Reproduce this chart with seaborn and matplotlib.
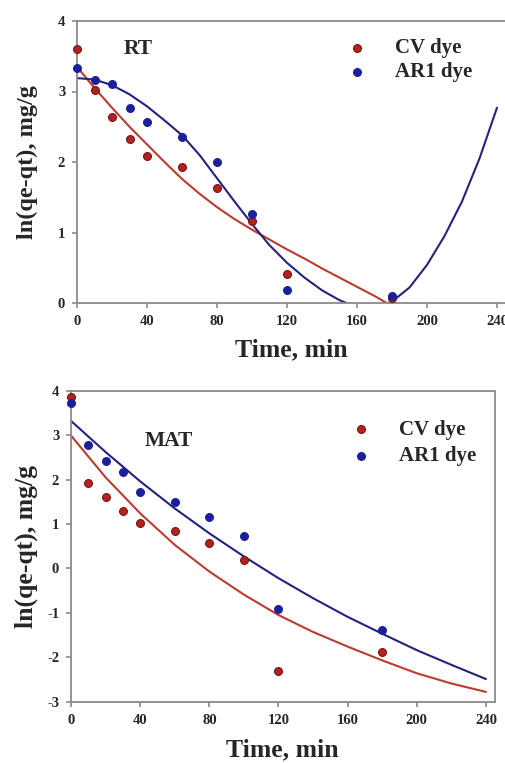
# -*- coding: utf-8 -*-

# pseudo-first-order kinetics: ln(qe-qt) vs time, RT and MAT panels

import matplotlib.pyplot as plt
import seaborn as sns
import pandas as pd

sns.set_style("ticks")
plt.rcParams["font.family"] = ["Liberation Serif", "DejaVu Serif"]
plt.rcParams["font.weight"] = "bold"
plt.rcParams["axes.labelweight"] = "bold"
plt.rcParams["axes.unicode_minus"] = False

# 颜色
red_dot = "#b3221e"
red_edge = "#7c1212"
blue_dot = "#1b1f9c"
red_line = "#bb3b30"
blue_line = "#23237f"
spine_color = "#8a8a8a"

# 实验数据 (min)
TIME = [0, 10, 20, 30, 40, 60, 80, 100, 120, 180]
RT_CV = [3.60, 3.02, 2.64, 2.32, 2.08, 1.93, 1.63, 1.17, 0.41, 0.07]
RT_AR1 = [3.34, 3.16, 3.10, 2.76, 2.57, 2.36, 2.00, 1.26, 0.18, 0.10]
MAT_CV = [3.85, 1.93, 1.60, 1.30, 1.03, 0.84, 0.57, 0.19, -2.31, -1.89]
MAT_AR1 = [3.72, 2.78, 2.42, 2.17, 1.73, 1.50, 1.16, 0.73, -0.91, -1.38]

# 拟合曲线
RT_CV_FIT_T = [0, 10, 20, 30, 40, 50, 60, 70, 80, 90, 100, 110, 120,
               130, 140, 150, 160, 170, 177]
RT_CV_FIT = [3.35, 3.05, 2.77, 2.50, 2.25, 2.00, 1.76, 1.55, 1.36, 1.19,
             1.04, 0.90, 0.76, 0.63, 0.49, 0.36, 0.23, 0.10, 0.00]
RT_AR1_FIT_T = [0, 10, 20, 30, 40, 50, 60, 70, 80, 90, 100, 110, 120,
                130, 140, 150, 160, 170, 180, 190, 200, 210, 220, 230, 240]
RT_AR1_FIT = [3.19, 3.17, 3.09, 2.96, 2.79, 2.59, 2.38, 2.10, 1.77, 1.44,
              1.12, 0.82, 0.57, 0.36, 0.18, 0.04, -0.06, -0.08, 0.02, 0.22,
              0.54, 0.95, 1.44, 2.05, 2.77]
MAT_FIT_T = [0, 20, 40, 60, 80, 100, 120, 140, 160, 180, 200, 220, 240]
MAT_CV_FIT = [2.99, 2.05, 1.24, 0.53, -0.07, -0.59, -1.05, -1.43, -1.76,
              -2.07, -2.36, -2.59, -2.78]
MAT_AR1_FIT = [3.32, 2.62, 1.96, 1.35, 0.79, 0.27, -0.22, -0.67, -1.09,
               -1.47, -1.84, -2.17, -2.49]

X_TICKS = [0, 40, 80, 120, 160, 200, 240]
RT_Y_TICKS = [0, 1, 2, 3, 4]
MAT_Y_TICKS = [-3, -2, -1, 0, 1, 2, 3, 4]


def plot_panel(ax, cv, ar1, cv_fit_t, cv_fit, ar1_fit_t, ar1_fit,
               ylim, yticks, tag, tag_pos, ylabel_size, leg_anchor,
               leg_spacing, right_spine=True):
    df = pd.DataFrame({"time": TIME, "cv": cv, "ar1": ar1})
    sns.lineplot(x=cv_fit_t, y=cv_fit, color=red_line, lw=1.5, ax=ax)
    sns.lineplot(x=ar1_fit_t, y=ar1_fit, color=blue_line, lw=1.5, ax=ax)
    sns.scatterplot(data=df, x="time", y="cv", color=red_dot, edgecolor=red_edge,
                    linewidth=0.8, s=32, label="CV dye", ax=ax, clip_on=False,
                    zorder=3)
    sns.scatterplot(data=df, x="time", y="ar1", color=blue_dot, edgecolor=blue_dot,
                    linewidth=0.8, s=32, label="AR1 dye", ax=ax, clip_on=False,
                    zorder=3)

    ax.set_xlim(0, 245)
    ax.set_ylim(*ylim)
    ax.set_xticks(X_TICKS)
    ax.set_yticks(yticks)
    for side in ["left", "bottom", "top", "right"]:
        ax.spines[side].set_color(spine_color)
        ax.spines[side].set_linewidth(1.3)
    ax.spines["right"].set_visible(right_spine)
    ax.tick_params(direction="out", length=3.5, width=1.2, color=spine_color,
                   labelsize=10.5, pad=5)

    ax.set_xlabel("Time, min", fontsize=18.5, fontweight="bold")
    ax.set_ylabel("ln(qe-qt), mg/g", fontsize=ylabel_size, fontweight="bold")
    ax.text(tag_pos[0], tag_pos[1], tag, transform=ax.transAxes, fontsize=15.5,
            fontweight="bold", ha="left", va="center")

    ax.legend(loc="upper left", bbox_to_anchor=leg_anchor, frameon=False,
              fontsize=15, handlelength=1.0, handletextpad=1.33,
              borderaxespad=0, borderpad=0, labelspacing=leg_spacing)


def main():
    fig = plt.figure(figsize=(5.06, 7.63), dpi=100, facecolor="w")

    # 上图 RT
    ax1 = fig.add_axes([77 / 506, 460 / 763, 428.75 / 506, 282 / 763])
    plot_panel(ax1, RT_CV, RT_AR1, RT_CV_FIT_T, RT_CV_FIT, RT_AR1_FIT_T, RT_AR1_FIT,
               (0, 4), RT_Y_TICKS, "RT", (0.110, 0.901), 17.5,
               (0.629, 0.938), 0.18, right_spine=False)
    ax1.xaxis.set_label_coords(0.5, -0.124)
    ax1.yaxis.set_label_coords(-0.091, 0.5)

    # 下图 MAT
    ax2 = fig.add_axes([71 / 506, 61.3 / 763, 423.6 / 506, 311 / 763])
    plot_panel(ax2, MAT_CV, MAT_AR1, MAT_FIT_T, MAT_CV_FIT, MAT_FIT_T, MAT_AR1_FIT,
               (-3, 4), MAT_Y_TICKS, "MAT", (0.175, 0.839), 18.5,
               (0.659, 0.906), 0.30)
    ax2.xaxis.set_label_coords(0.5, -0.118)
    ax2.yaxis.set_label_coords(-0.078, 0.5)

    fig.savefig("out.png", dpi=100, facecolor="w")


if __name__ == "__main__":
    main()
